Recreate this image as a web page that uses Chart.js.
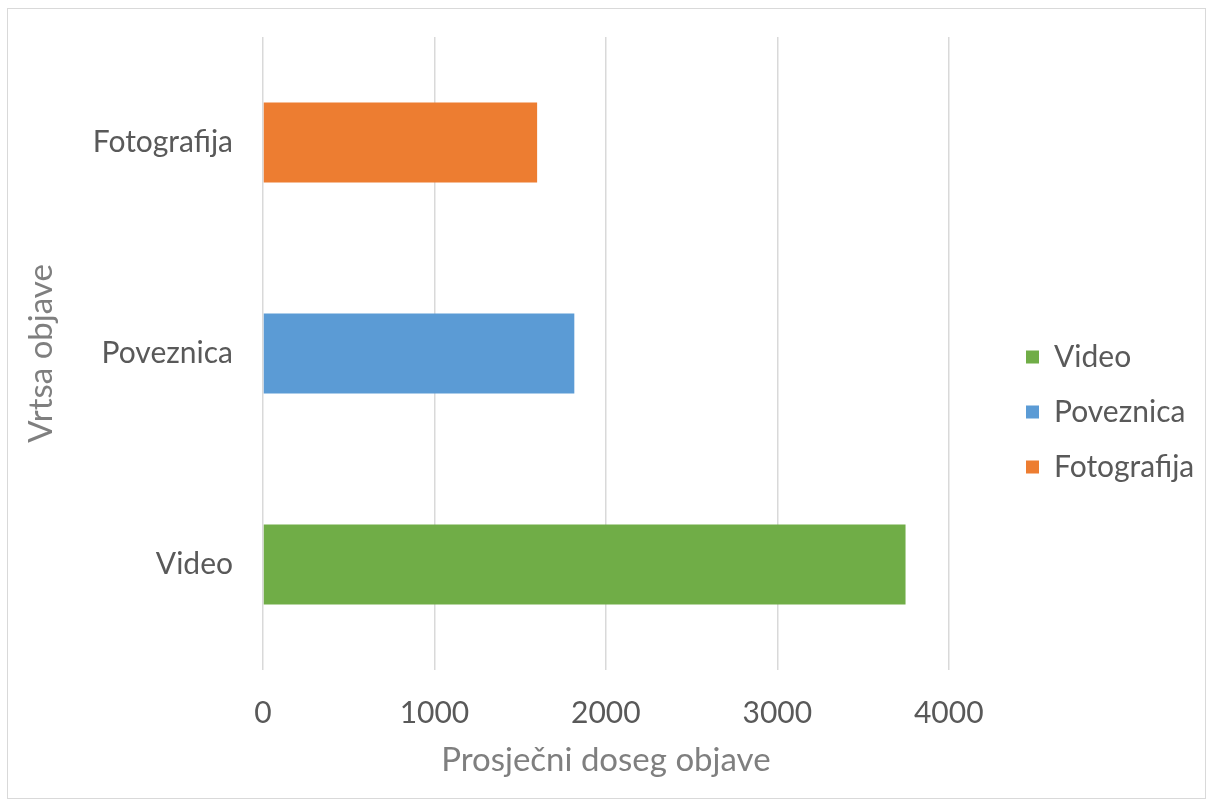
<!DOCTYPE html>
<html>
<head>
<meta charset="utf-8">
<title>Prosječni doseg objave</title>
<script src="https://cdn.jsdelivr.net/npm/chart.js@4.4.1/dist/chart.umd.min.js"></script>
<style>
  html, body { margin: 0; padding: 0; background: #fff; }
  #wrap { position: relative; width: 1214px; height: 810px; }
  #frame {
    position: absolute; left: 7px; top: 8px; width: 1199px; height: 791px;
    border: 1.5px solid #d9d9d9; box-sizing: border-box;
  }
  #chart { position: absolute; left: 0; top: 0; }
</style>
</head>
<body>
<div id="wrap">
  <div id="frame"></div>
  <canvas id="chart" width="1214" height="810"></canvas>
</div>
<script>
// categories, top to bottom
const categories = ['Fotografija', 'Poveznica', 'Video'];

// one series per post type, each only has a value in its own row
const seriesNames = ['Video', 'Poveznica', 'Fotografija'];
const videoValues = [null, null, 3748];
const poveznicaValues = [null, 1816, null];
const fotografijaValues = [1599, null, null];

const xMin = 0;
const xMax = 4000;
const xStep = 1000;

const xTitle = 'Prosječni doseg objave';
const yTitle = 'Vrtsa objave';

const COLORS = { video: '#70AD47', poveznica: '#5B9BD5', fotografija: '#ED7D31' };
const TEXT = '#595959';
const TITLE = '#7f7f7f';
const GRID = '#d9d9d9';
const FONT = 'Lato';

// legend sits a bit further right than the end of the plot area
const legendShift = {
    id: 'legendShift',
    afterLayout(chart) {
        const lg = chart.legend;
        if (!lg) return;
        const dx = 1001 - lg.left;
        lg.left += dx;
        lg.right += dx;
    }
};

const ctx = document.getElementById('chart').getContext('2d');

new Chart(ctx, {
    type: 'bar',
    data: {
        labels: categories,
        datasets: [
            { label: seriesNames[0], data: videoValues, backgroundColor: COLORS.video },
            { label: seriesNames[1], data: poveznicaValues, backgroundColor: COLORS.poveznica },
            { label: seriesNames[2], data: fotografijaValues, backgroundColor: COLORS.fotografija }
        ]
    },
    options: {
        indexAxis: 'y',
        responsive: false,
        animation: false,
        datasets: {
            bar: { categoryPercentage: 1, barPercentage: 0.38, borderWidth: 0 }
        },
        layout: { padding: { top: 37, bottom: 23, left: 0, right: 62 } },
        plugins: {
            tooltip: { enabled: false },
            legend: {
                position: 'right',
                labels: {
                    color: TEXT,
                    font: { family: FONT, size: 30 },
                    boxWidth: 13,
                    boxHeight: 13,
                    padding: 25
                }
            }
        },
        scales: {
            x: {
                stacked: true,
                min: xMin,
                max: xMax,
                ticks: {
                    stepSize: xStep,
                    format: { useGrouping: false },
                    color: TEXT,
                    font: { family: FONT, size: 30 },
                    padding: 25
                },
                grid: { color: GRID, lineWidth: 1.5, drawTicks: false },
                border: { display: false },
                title: {
                    display: true,
                    text: xTitle,
                    color: TITLE,
                    font: { family: FONT, size: 33 },
                    padding: { top: 0, bottom: 7 }
                },
                afterFit(scale) { scale.height = 117; }
            },
            y: {
                stacked: true,
                ticks: {
                    color: TEXT,
                    font: { family: FONT, size: 30 },
                    padding: 30
                },
                grid: { display: false, drawTicks: false },
                border: { display: false },
                title: {
                    display: true,
                    text: yTitle,
                    color: TITLE,
                    font: { family: FONT, size: 33 },
                    padding: { top: 22, bottom: 0 }
                },
                afterFit(scale) {
                    scale.width = 263;
                    scale.paddingTop = 0;
                    scale.paddingBottom = 0;
                }
            }
        }
    },
    plugins: [legendShift]
});
</script>
</body>
</html>
